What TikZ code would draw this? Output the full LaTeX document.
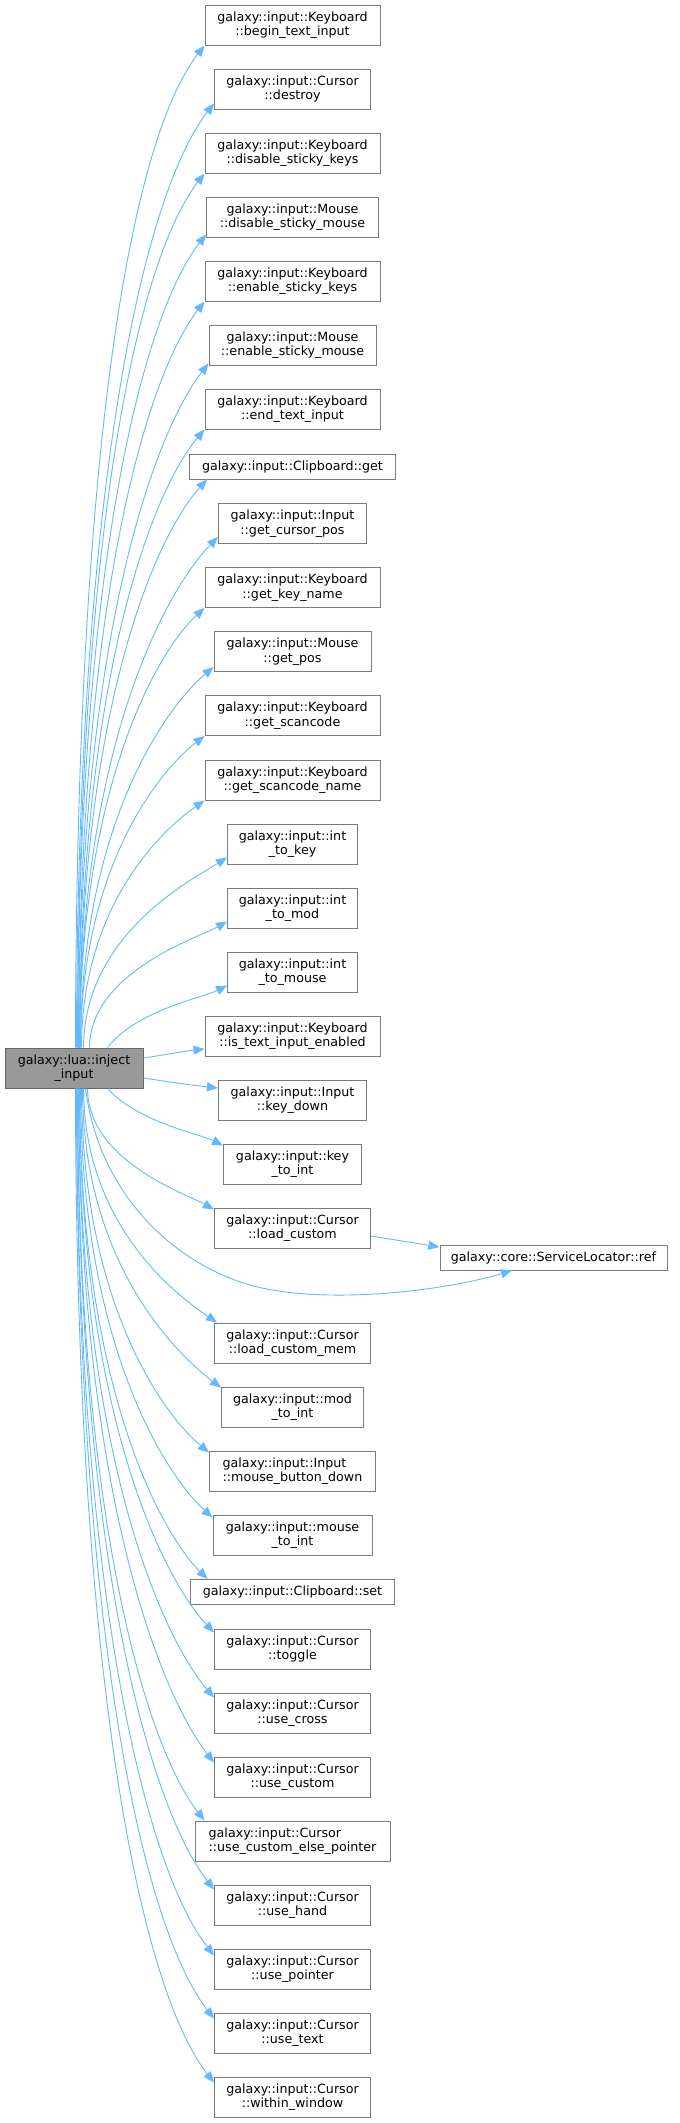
\documentclass[tikz,border=0pt]{standalone}
\usepackage{fontspec}
\setmainfont{DejaVu Sans}
\usetikzlibrary{arrows.meta,calc}
\definecolor{edgec}{HTML}{63B8FF}
\definecolor{boxc}{HTML}{7A7A7A}
\definecolor{mainfill}{HTML}{999999}
\tikzset{
 box/.style={draw=boxc, fill=white, line width=1pt, inner sep=0pt, minimum height=40pt, align=center, font=\fontsize{12.67pt}{14.5pt}\selectfont},
 boxone/.style={box, minimum height=25pt},
 edge/.style={draw=edgec, line width=0.9pt, -{Triangle[length=11pt,width=9pt]}}
}
% upper edge: #1 target, #2 exit x on main top, #3 tip x, #4 tip y, #5 xshift, #6 yshift (up)
\newcommand\upE[6]{%
 \pgfmathsetmacro\eDD{1048-(#4)}%
 \pgfmathsetmacro\eCAy{1048-0.6*\eDD}%
 \pgfmathsetmacro\eCAx{(#2)+max(0,60-0.5*\eDD)}%
 \pgfmathsetmacro\eAng{min(52,25+0.04*\eDD)}%
 \pgfmathsetmacro\eL{20+0.1*\eDD}%
 \pgfmathsetmacro\eCBx{(#3)-\eL*cos(\eAng)}%
 \pgfmathsetmacro\eCBy{(#4)+\eL*sin(\eAng)}%
 \pgfmathsetmacro\eXo{(#2)-5}%
 \draw[edge] ([xshift=\eXo pt]main.north west) .. controls (\eCAx,\eCAy) and (\eCBx,\eCBy) .. ([xshift=#5pt,yshift=#6pt]#1.south west);%
}
% lower edge: #1 target, #2 exit x on main bottom, #3 tip x, #4 tip y, #5 xshift, #6 shift down
\newcommand\dnE[6]{%
 \pgfmathsetmacro\eDD{(#4)-1088}%
 \pgfmathsetmacro\eCAy{1088+0.6*\eDD}%
 \pgfmathsetmacro\eCAx{(#2)+max(0,60-0.5*\eDD)}%
 \pgfmathsetmacro\eAng{min(52,25+0.04*\eDD)}%
 \pgfmathsetmacro\eL{20+0.1*\eDD}%
 \pgfmathsetmacro\eCBx{(#3)-\eL*cos(\eAng)}%
 \pgfmathsetmacro\eCBy{(#4)-\eL*sin(\eAng)}%
 \pgfmathsetmacro\eXo{(#2)-5}%
 \draw[edge] ([xshift=\eXo pt]main.south west) .. controls (\eCAx,\eCAy) and (\eCBx,\eCBy) .. ([xshift=#5pt,yshift=-#6pt]#1.north west);%
}
\begin{document}
\begin{tikzpicture}[x=1pt,y=-1pt]
\useasboundingbox (0,0) rectangle (680,2123);
\node[box, minimum width=138pt, fill=mainfill, draw=boxc!85!black] (main) at (74,1068) {galaxy::lua::inject\\\_input};
\node[box, minimum width=175pt] (n1) at (292.5,25) {galaxy::input::Keyboard\\::begin\_text\_input};
\node[box, minimum width=156pt] (n2) at (292.5,89) {galaxy::input::Cursor\\::destroy};
\node[box, minimum width=175pt] (n3) at (292.5,153) {galaxy::input::Keyboard\\::disable\_sticky\_keys};
\node[box, minimum width=172pt] (n4) at (292.5,217) {galaxy::input::Mouse\\::disable\_sticky\_mouse};
\node[box, minimum width=175pt] (n5) at (292.5,281) {galaxy::input::Keyboard\\::enable\_sticky\_keys};
\node[box, minimum width=167pt] (n6) at (292.5,345) {galaxy::input::Mouse\\::enable\_sticky\_mouse};
\node[box, minimum width=175pt] (n7) at (292.5,409) {galaxy::input::Keyboard\\::end\_text\_input};
\node[boxone, minimum width=206pt] (n8) at (292.5,466.5) {galaxy::input::Clipboard::get};
\node[box, minimum width=148pt] (n9) at (292.5,523.5) {galaxy::input::Input\\::get\_cursor\_pos};
\node[box, minimum width=175pt] (n10) at (292.5,587.5) {galaxy::input::Keyboard\\::get\_key\_name};
\node[box, minimum width=157pt] (n11) at (292.5,651.5) {galaxy::input::Mouse\\::get\_pos};
\node[box, minimum width=175pt] (n12) at (292.5,715.5) {galaxy::input::Keyboard\\::get\_scancode};
\node[box, minimum width=175pt] (n13) at (292.5,780) {galaxy::input::Keyboard\\::get\_scancode\_name};
\node[box, minimum width=130pt] (n14) at (292.5,844) {galaxy::input::int\\\_to\_key};
\node[box, minimum width=130pt] (n15) at (292.5,908) {galaxy::input::int\\\_to\_mod};
\node[box, minimum width=130pt] (n16) at (292.5,972) {galaxy::input::int\\\_to\_mouse};
\node[box, minimum width=175pt] (n17) at (292.5,1036) {galaxy::input::Keyboard\\::is\_text\_input\_enabled};
\node[box, minimum width=148pt] (n18) at (292.5,1100) {galaxy::input::Input\\::key\_down};
\node[box, minimum width=138pt] (n19) at (292.5,1164) {galaxy::input::key\\\_to\_int};
\node[box, minimum width=156pt] (n20) at (292.5,1228) {galaxy::input::Cursor\\::load\_custom};
\node[boxone, minimum width=227pt] (n21) at (553.5,1257.5) {galaxy::core::ServiceLocator::ref};
\node[box, minimum width=156pt] (n22) at (292.5,1343) {galaxy::input::Cursor\\::load\_custom\_mem};
\node[box, minimum width=142pt] (n23) at (292.5,1407) {galaxy::input::mod\\\_to\_int};
\node[box, minimum width=166pt, align=left] (n24) at (292.5,1471) {galaxy::input::Input\\::mouse\_button\_down};
\node[box, minimum width=159pt] (n25) at (292.5,1535) {galaxy::input::mouse\\\_to\_int};
\node[boxone, minimum width=204pt] (n26) at (292.5,1592) {galaxy::input::Clipboard::set};
\node[box, minimum width=156pt] (n27) at (292.5,1649) {galaxy::input::Cursor\\::toggle};
\node[box, minimum width=156pt] (n28) at (292.5,1713) {galaxy::input::Cursor\\::use\_cross};
\node[box, minimum width=156pt] (n29) at (292.5,1777) {galaxy::input::Cursor\\::use\_custom};
\node[box, minimum width=195pt, align=left] (n30) at (292.5,1841) {galaxy::input::Cursor\\::use\_custom\_else\_pointer};
\node[box, minimum width=156pt] (n31) at (292.5,1905) {galaxy::input::Cursor\\::use\_hand};
\node[box, minimum width=156pt] (n32) at (292.5,1969) {galaxy::input::Cursor\\::use\_pointer};
\node[box, minimum width=156pt] (n33) at (292.5,2033) {galaxy::input::Cursor\\::use\_text};
\node[box, minimum width=156pt] (n34) at (292.5,2097) {galaxy::input::Cursor\\::within\_window};
% upper edges
\upE{n1}{76}{205}{45}{0}{0}
\upE{n2}{77}{214.5}{103}{0}{6}
\upE{n3}{78}{205}{173}{0}{0}
\upE{n4}{78}{206.5}{234}{0}{3}
\upE{n5}{79}{205}{301}{0}{0}
\upE{n6}{79}{209}{363}{0}{2}
\upE{n7}{80}{205}{429}{0}{0}
\upE{n8}{80}{207.5}{479}{18}{0}
\upE{n9}{80}{218.5}{536.5}{0}{7}
\upE{n10}{80}{205}{607.5}{0}{0}
\upE{n11}{81}{214}{666.5}{0}{5}
\upE{n12}{81}{205}{735.5}{0}{0}
\upE{n13}{82}{205}{800}{0}{0}
\upE{n14}{84}{227.5}{857}{0}{7}
\upE{n15}{90}{227.5}{921}{0}{7}
\upE{n16}{108}{227.5}{985}{0}{7}
% side edges
\draw[edge] ([yshift=10pt]main.east) .. controls (170,1054) and (185,1051) .. ([yshift=-13pt]n17.west);
\draw[edge] ([yshift=-10pt]main.east) .. controls (170,1082) and (190,1085) .. ([yshift=12pt]n18.west);
% lower edges
\dnE{n19}{108}{223.5}{1146}{0}{2}
\dnE{n20}{88}{214.5}{1210}{0}{2}
\dnE{n22}{84}{217.5}{1323}{3}{0}
\dnE{n23}{83}{221.5}{1388}{0}{1}
\dnE{n24}{82}{209.5}{1453}{0}{2}
\dnE{n25}{81}{213}{1518}{0}{3}
\dnE{n26}{80}{208}{1579}{17.5}{0}
\dnE{n27}{80}{214.5}{1633}{0}{4}
\dnE{n28}{79}{214.5}{1698}{0}{5}
\dnE{n29}{79}{214.5}{1763}{0}{6}
\dnE{n30}{78}{205}{1821}{10}{0}
\dnE{n31}{78}{214.5}{1890}{0}{5}
\dnE{n32}{77}{214.5}{1956}{0}{7}
\dnE{n33}{77}{214.5}{2019}{0}{6}
\dnE{n34}{76}{214.5}{2083}{0}{6}
% edges to ServiceLocator::ref
\draw[edge] ([xshift=81pt]main.south west) .. controls (100,1200) and (180,1265) .. (250,1285) .. controls (320,1305) and (440,1292) .. ([xshift=-41.5pt]n21.south);
\draw[edge] ([yshift=-8pt]n20.east) -- ([yshift=10.5pt]n21.west);
\end{tikzpicture}
\end{document}
